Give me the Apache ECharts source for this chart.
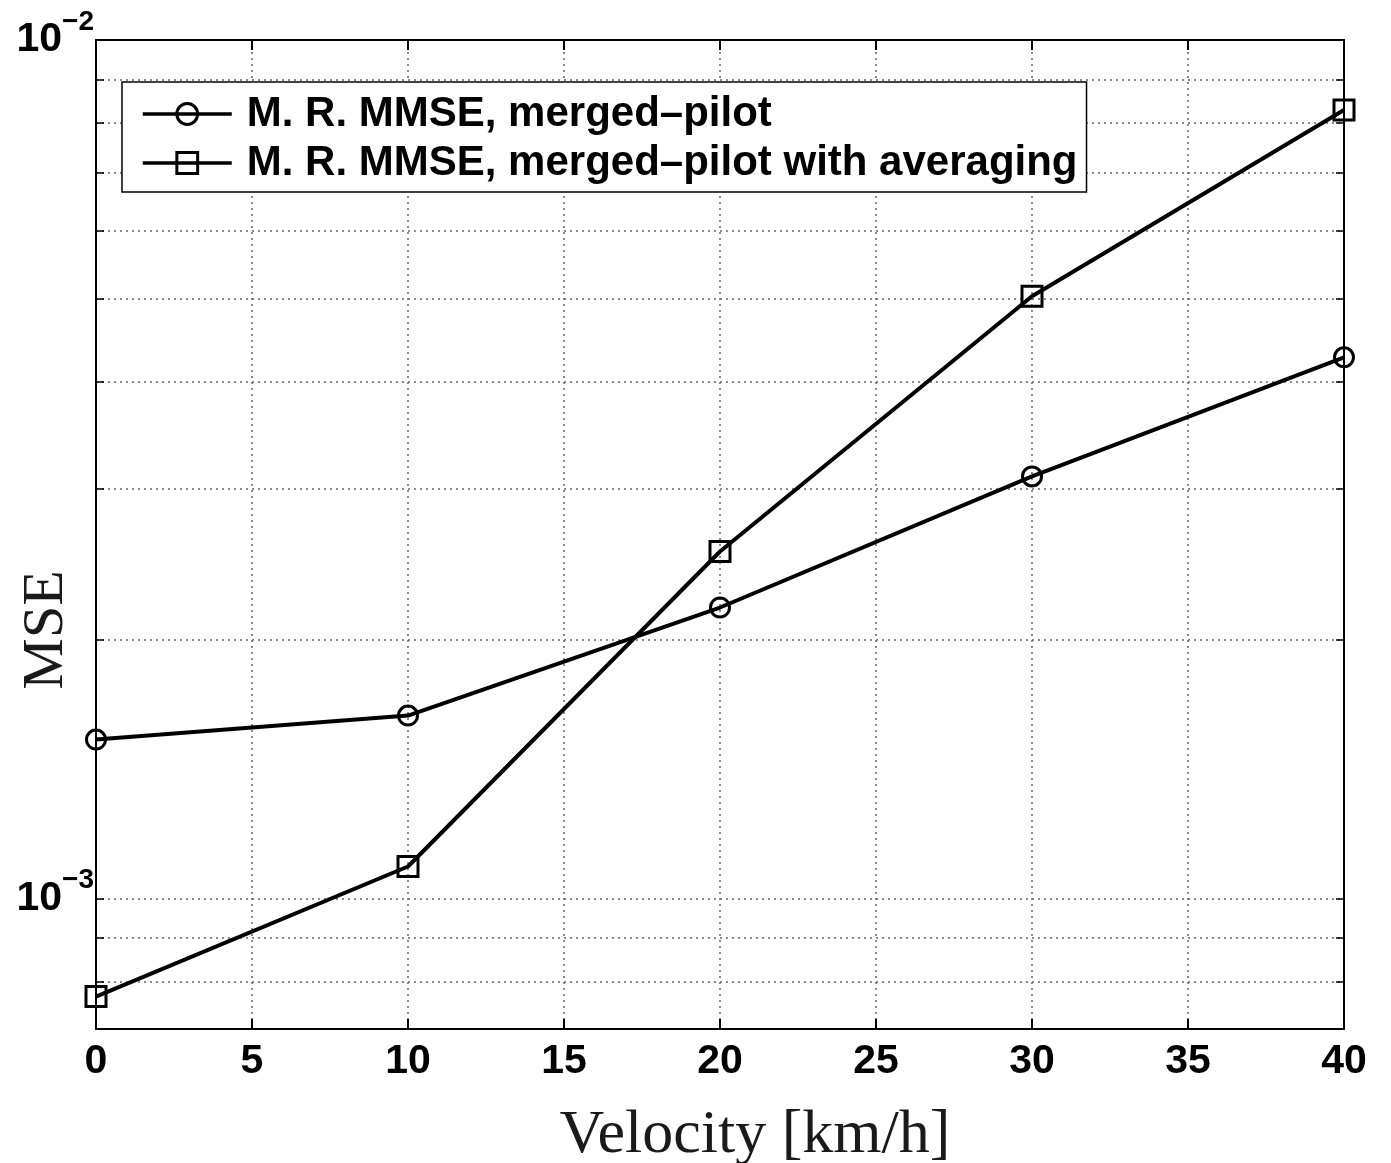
<!DOCTYPE html>
<html>
<head>
<meta charset="utf-8">
<script src="https://cdn.jsdelivr.net/npm/echarts@6/dist/echarts.min.js"></script>
<style>
html,body{margin:0;padding:0;background:#fff;}
#main{width:1391px;height:1163px;}
</style>
</head>
<body>
<div id="main"></div>
<script>
var velocity = [0, 10, 20, 30, 40];
var mseMerged = [1.532e-3, 1.634e-3, 2.183e-3, 3.103e-3, 4.27e-3];
var mseMergedAvg = [7.69e-4, 1.090e-3, 2.537e-3, 5.03e-3, 8.29e-3];
var seriesNames = ['M. R. MMSE, merged\u2013pilot', 'M. R. MMSE, merged\u2013pilot with averaging'];
var yTickValues = [8e-4, 9e-4, 1e-3, 2e-3, 3e-3, 4e-3, 5e-3, 6e-3, 7e-3, 8e-3, 9e-3, 1e-2];
var yMin = 7.05e-4, yMax = 1e-2;
var xTicks = [0, 5, 10, 15, 20, 25, 30, 35, 40];

function pairs(xs, ys) { return xs.map(function (x, i) { return [x, ys[i]]; }); }

var chart = echarts.init(document.getElementById('main'), null, {renderer: 'canvas'});
var gridStyle = {color: '#666', width: 1.5, type: [2, 4]};
var sansBold = {fontFamily: 'Liberation Sans', fontWeight: 'bold', color: '#000'};

var option = {
  backgroundColor: '#fff',
  animation: false,
  grid: {left: 96, right: 47, top: 40, bottom: 134, containLabel: false},
  legend: {
    left: 122, top: 82, orient: 'vertical',
    backgroundColor: '#fff', borderColor: '#000', borderWidth: 1.5,
    padding: [11, 9, 8, 19], itemGap: 7,
    itemWidth: 89, itemHeight: 26,
    lineStyle: {width: 3.5, color: '#000'},
    itemStyle: {borderWidth: 3, borderColor: '#000'},
    textStyle: {fontFamily: 'Liberation Sans', fontWeight: 'bold', fontSize: 42, color: '#000', lineHeight: 40, padding: [0, 0, 0, 10]},
    data: seriesNames
  },
  xAxis: [{
    type: 'value', min: 0, max: 40, interval: 5, position: 'bottom',
    axisLine: {onZero: false, lineStyle: {color: '#000', width: 2}},
    axisTick: {inside: true, length: 10, lineStyle: {color: '#000', width: 2}},
    axisLabel: Object.assign({fontSize: 41, margin: 12}, sansBold),
    splitLine: {show: true, lineStyle: gridStyle}
  }, {
    type: 'value', min: 0, max: 40, interval: 5, position: 'top',
    axisLine: {onZero: false, lineStyle: {color: '#000', width: 2}},
    axisTick: {inside: true, length: 10, lineStyle: {color: '#000', width: 2}},
    axisLabel: {show: false}, splitLine: {show: false}
  }],
  yAxis: [{
    type: 'log', min: yMin, max: yMax, logBase: 10, position: 'left',
    axisLine: {onZero: false, lineStyle: {color: '#000', width: 2}},
    axisTick: {inside: true, length: 8, lineStyle: {color: '#000', width: 1.5}, customValues: yTickValues},
    axisLabel: {
      margin: 2,
      formatter: function (v) {
        var e = Math.log10(v);
        if (Math.abs(e - Math.round(e)) > 1e-6) return '';
        return '{b|10}{s|\u2212' + (-Math.round(e)) + '}';
      },
      rich: {
        b: Object.assign({fontSize: 41}, sansBold),
        s: Object.assign({fontSize: 28, padding: [0, 0, 36, 0]}, sansBold)
      }
    },
    splitLine: {show: true, lineStyle: gridStyle}
  }, {
    type: 'log', min: yMin, max: yMax, logBase: 10, position: 'right',
    axisLine: {onZero: false, lineStyle: {color: '#000', width: 2}},
    axisTick: {inside: true, length: 8, lineStyle: {color: '#000', width: 1.5}, customValues: yTickValues},
    axisLabel: {show: false}, splitLine: {show: false}
  }],
  series: [{
    name: seriesNames[0], type: 'line', xAxisIndex: 0, yAxisIndex: 0,
    data: pairs(velocity, mseMerged),
    symbol: 'circle', symbolSize: 19,
    lineStyle: {color: '#000', width: 4},
    itemStyle: {color: 'rgba(255,255,255,0)', borderColor: '#000', borderWidth: 3},
    z: 5
  }, {
    name: seriesNames[1], type: 'line', xAxisIndex: 0, yAxisIndex: 0,
    data: pairs(velocity, mseMergedAvg),
    symbol: 'rect', symbolSize: 20,
    lineStyle: {color: '#000', width: 4},
    itemStyle: {color: 'rgba(255,255,255,0)', borderColor: '#000', borderWidth: 3},
    z: 5
  }],
  graphic: [{
    type: 'text', x: 755, y: 1136,
    style: {text: 'Velocity [km/h]', fontFamily: 'Liberation Serif', fontSize: 62, fill: '#1a1a1a', textAlign: 'center', textVerticalAlign: 'middle'}
  }, {
    type: 'text', x: 47, y: 630, rotation: Math.PI / 2,
    style: {text: 'MSE', fontFamily: 'Liberation Serif', fontSize: 58, fill: '#1a1a1a', textAlign: 'center', textVerticalAlign: 'middle'}
  }]
};
chart.setOption(option);
</script>
</body>
</html>
